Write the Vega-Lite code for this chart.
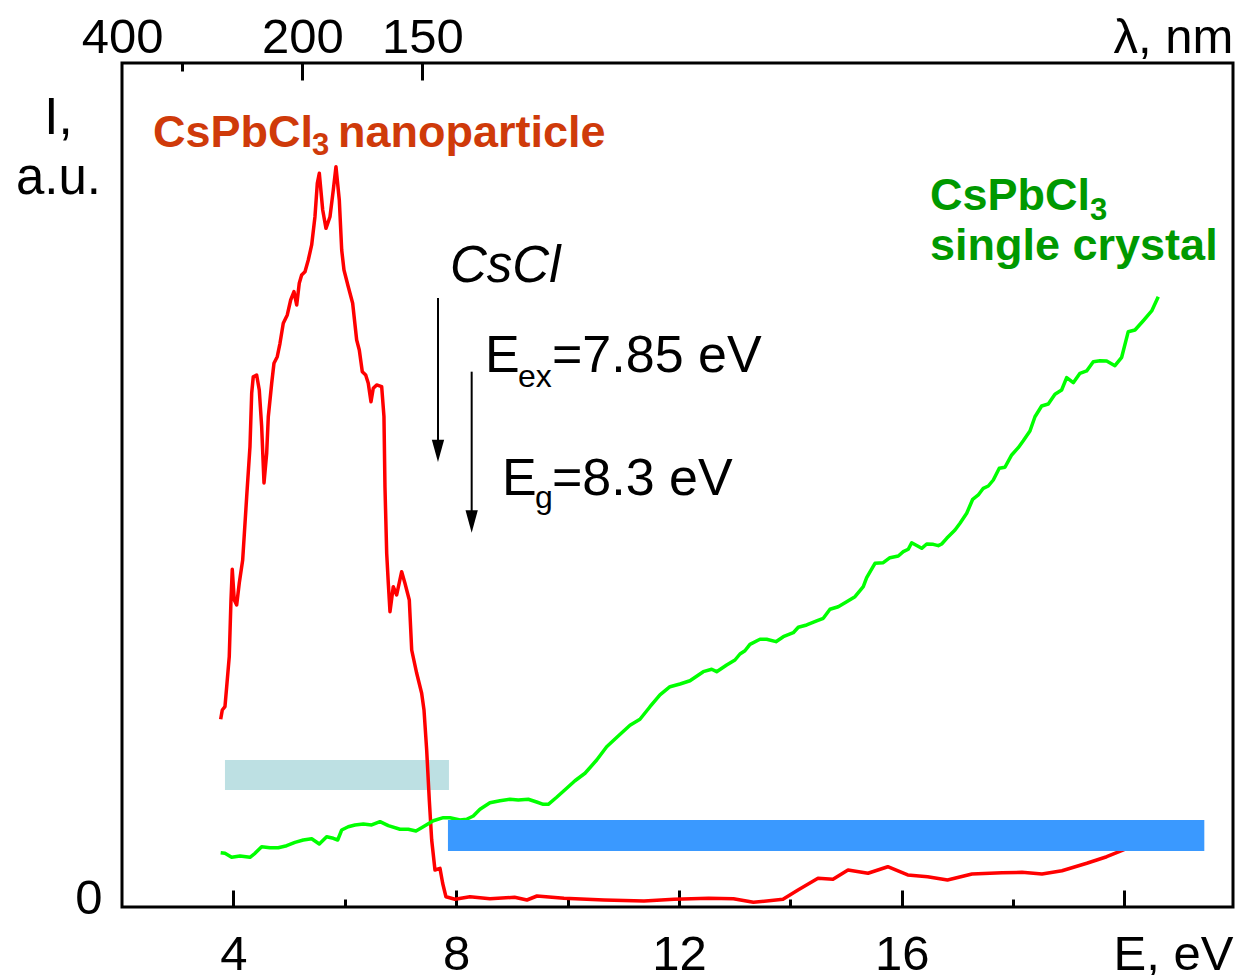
{
  "$schema": "https://vega.github.io/schema/vega-lite/v6.json",
  "width": 1111,
  "height": 844,
  "autosize": {"type": "none"},
  "padding": {"left": 122, "top": 63, "right": 16, "bottom": 68},
  "background": "white",
  "config": {
    "view": {"stroke": "#000", "strokeWidth": 3},
    "axis": {
      "grid": false, "domain": false,
      "labelFont": "Liberation Sans", "titleFont": "Liberation Sans",
      "labelColor": "#000", "titleColor": "#000", "tickColor": "#000",
      "tickWidth": 3, "labelFontSize": 49, "titleFontSize": 49,
      "titleFontWeight": "normal", "labelOverlap": false, "labelFlush": false
    }
  },
  "datasets": {
    "red": [
      {"E":3.772,"I":22.34},{"E":3.801,"I":23.5},{"E":3.849,"I":23.91},{"E":3.880,"I":26.41},{"E":3.926,"I":30.16},{"E":3.957,"I":37.25},{"E":3.980,"I":41.09},{"E":4.016,"I":37.25},{"E":4.059,"I":36.63},{"E":4.106,"I":39.38},{"E":4.167,"I":42.25},{"E":4.239,"I":50.16},{"E":4.298,"I":56.41},{"E":4.329,"I":63.13},{"E":4.357,"I":65.16},{"E":4.418,"I":65.38},{"E":4.465,"I":63.5},{"E":4.508,"I":58.91},{"E":4.550,"I":51.88},{"E":4.598,"I":55.59},{"E":4.627,"I":60.16},{"E":4.688,"I":64.34},{"E":4.729,"I":66.84},{"E":4.788,"I":67.66},{"E":4.837,"I":69.34},{"E":4.896,"I":71.84},{"E":4.968,"I":72.88},{"E":5.029,"I":74.75},{"E":5.088,"I":75.79},{"E":5.137,"I":74.13},{"E":5.183,"I":76.84},{"E":5.226,"I":77.88},{"E":5.286,"I":78.29},{"E":5.345,"I":79.75},{"E":5.406,"I":81.63},{"E":5.465,"I":85.16},{"E":5.507,"I":89.34},{"E":5.543,"I":90.59},{"E":5.604,"I":86},{"E":5.663,"I":83.71},{"E":5.735,"I":85.16},{"E":5.794,"I":88.5},{"E":5.842,"I":91.41},{"E":5.902,"I":87.25},{"E":5.945,"I":81},{"E":5.986,"I":78.5},{"E":6.063,"I":76.41},{"E":6.142,"I":74.34},{"E":6.214,"I":69.75},{"E":6.261,"I":68.5},{"E":6.315,"I":65.79},{"E":6.376,"I":65.38},{"E":6.422,"I":64.34},{"E":6.471,"I":62.04},{"E":6.512,"I":63.71},{"E":6.573,"I":64.13},{"E":6.663,"I":63.91},{"E":6.704,"I":60.16},{"E":6.722,"I":51.41},{"E":6.753,"I":43.09},{"E":6.782,"I":39.34},{"E":6.812,"I":35.79},{"E":6.871,"I":38.91},{"E":6.932,"I":37.88},{"E":7.022,"I":40.79},{"E":7.081,"I":39.34},{"E":7.159,"I":37.25},{"E":7.202,"I":31},{"E":7.292,"I":28.09},{"E":7.381,"I":25.59},{"E":7.423,"I":23.5},{"E":7.471,"I":18.5},{"E":7.518,"I":12.25},{"E":7.561,"I":7.25},{"E":7.620,"I":3.5},{"E":7.710,"I":3.71},{"E":7.758,"I":1.84},{"E":7.817,"I":0.16},{"E":7.979,"I":-0.16},{"E":8.248,"I":0.16},{"E":8.607,"I":-0.09},{"E":9.049,"I":0.09},{"E":9.272,"I":-0.25},{"E":9.452,"I":0.25},{"E":9.936,"I":-0.04},{"E":10.655,"I":-0.25},{"E":11.373,"I":-0.38},{"E":11.912,"I":-0.16},{"E":12.535,"I":-0.04},{"E":12.980,"I":-0.09},{"E":13.338,"I":-0.54},{"E":13.869,"I":-0.16},{"E":14.139,"I":1},{"E":14.498,"I":2.46},{"E":14.767,"I":2.34},{"E":15.037,"I":3.5},{"E":15.396,"I":3.09},{"E":15.751,"I":3.91},{"E":16.109,"I":2.88},{"E":16.466,"I":2.66},{"E":16.823,"I":2.25},{"E":17.263,"I":3},{"E":17.802,"I":3.16},{"E":18.161,"I":3.21},{"E":18.520,"I":3},{"E":18.879,"I":3.41},{"E":19.325,"I":4.34},{"E":19.682,"I":5.16},{"E":19.950,"I":5.91},{"E":20.190,"I":6.63}
    ],
    "green": [
      {"E":3.772,"I":5.66},{"E":3.849,"I":5.59},{"E":3.969,"I":5.09},{"E":4.119,"I":5.25},{"E":4.298,"I":5.09},{"E":4.388,"I":5.59},{"E":4.508,"I":6.41},{"E":4.657,"I":6.29},{"E":4.806,"I":6.29},{"E":4.957,"I":6.54},{"E":5.106,"I":6.96},{"E":5.255,"I":7.25},{"E":5.406,"I":7.41},{"E":5.543,"I":6.75},{"E":5.675,"I":7.66},{"E":5.794,"I":7.46},{"E":5.873,"I":7.25},{"E":5.945,"I":8.5},{"E":6.063,"I":8.91},{"E":6.184,"I":9.13},{"E":6.333,"I":9.25},{"E":6.483,"I":9.13},{"E":6.633,"I":9.54},{"E":6.782,"I":9.04},{"E":6.992,"I":8.59},{"E":7.141,"I":8.59},{"E":7.279,"I":8.38},{"E":7.410,"I":8.91},{"E":7.590,"I":9.66},{"E":7.769,"I":10.04},{"E":7.890,"I":10.04},{"E":8.069,"I":9.75},{"E":8.189,"I":9.84},{"E":8.308,"I":10.25},{"E":8.428,"I":11.09},{"E":8.607,"I":11.91},{"E":8.787,"I":12.16},{"E":8.967,"I":12.34},{"E":9.116,"I":12.25},{"E":9.295,"I":12.34},{"E":9.446,"I":12},{"E":9.565,"I":11.71},{"E":9.655,"I":11.71},{"E":9.805,"I":12.59},{"E":9.985,"I":13.71},{"E":10.134,"I":14.66},{"E":10.314,"I":15.59},{"E":10.524,"I":17.25},{"E":10.703,"I":18.91},{"E":10.911,"I":20.25},{"E":11.122,"I":21.59},{"E":11.301,"I":22.34},{"E":11.481,"I":23.91},{"E":11.660,"I":25.38},{"E":11.840,"I":26.41},{"E":12.020,"I":26.75},{"E":12.199,"I":27.16},{"E":12.438,"I":28.29},{"E":12.589,"I":28.59},{"E":12.678,"I":28.29},{"E":12.858,"I":29.13},{"E":13.007,"I":29.75},{"E":13.097,"I":30.5},{"E":13.186,"I":30.91},{"E":13.276,"I":31.71},{"E":13.456,"I":32.34},{"E":13.576,"I":32.34},{"E":13.743,"I":32.04},{"E":13.875,"I":32.66},{"E":14.054,"I":33.16},{"E":14.144,"I":33.84},{"E":14.295,"I":34.13},{"E":14.474,"I":34.63},{"E":14.593,"I":34.96},{"E":14.713,"I":36.09},{"E":14.862,"I":36.41},{"E":15.013,"I":37.04},{"E":15.162,"I":37.66},{"E":15.311,"I":38.91},{"E":15.372,"I":40.04},{"E":15.521,"I":41.84},{"E":15.670,"I":41.91},{"E":15.790,"I":42.54},{"E":15.940,"I":42.75},{"E":16.030,"I":43.29},{"E":16.119,"I":43.59},{"E":16.180,"I":44.41},{"E":16.360,"I":43.71},{"E":16.450,"I":44.25},{"E":16.568,"I":44.21},{"E":16.658,"I":44.04},{"E":16.719,"I":44.25},{"E":16.809,"I":44.96},{"E":16.958,"I":46},{"E":17.048,"I":46.84},{"E":17.168,"I":48.09},{"E":17.276,"I":49.84},{"E":17.376,"I":50.38},{"E":17.466,"I":51.21},{"E":17.556,"I":51.5},{"E":17.646,"I":52.25},{"E":17.753,"I":53.71},{"E":17.855,"I":53.84},{"E":17.976,"I":55.38},{"E":18.094,"I":56.29},{"E":18.184,"I":57.16},{"E":18.304,"I":58.38},{"E":18.394,"I":60.16},{"E":18.514,"I":61.5},{"E":18.633,"I":61.75},{"E":18.753,"I":62.96},{"E":18.873,"I":63.5},{"E":18.963,"I":65.04},{"E":19.082,"I":64.41},{"E":19.202,"I":65.59},{"E":19.322,"I":65.88},{"E":19.441,"I":67.04},{"E":19.561,"I":67.16},{"E":19.681,"I":67.13},{"E":19.830,"I":66.54},{"E":19.951,"I":67.59},{"E":20.069,"I":70.79},{"E":20.190,"I":71},{"E":20.339,"I":72.16},{"E":20.490,"I":73.38},{"E":20.608,"I":75.16}
    ],
    "bars": [
      {"name":"CsCl","E1":3.849,"E2":7.871,"I1":13.5,"I2":17.25},
      {"name":"CsPbCl3","E1":7.853,"E2":21.435,"I1":5.875,"I2":9.75}
    ],
    "arrows": [
      {"E":7.674,"top":75,"head":55.89},
      {"E":8.279,"top":65.79,"head":47.06}
    ],
    "lam": [{"lam":400},{"lam":150}]
  },
  "resolve": {"scale": {"x": "independent"}},
  "layer": [
    {
      "resolve": {"axis": {"x": "independent", "y": "independent"}},
      "layer": [
        {
          "data": {"name": "bars"},
          "transform": [{"filter": "datum.name == 'CsCl'"}],
          "mark": {"type": "rect", "color": "#BDE0E3"},
          "encoding": {
            "x": {"field": "E1", "type": "quantitative",
              "scale": {"domain": [2.0, 21.95], "nice": false, "zero": false},
              "axis": {"orient": "bottom", "values": [4, 8, 12, 16], "ticks": false, "labelPadding": 62, "labelBaseline": "alphabetic",
                "title": "E, eV", "titleX": 991, "titleY": 62, "titleAlign": "left", "titleBaseline": "alphabetic", "titleAngle": 0}},
            "x2": {"field": "E2"},
            "y": {"field": "I1", "type": "quantitative",
              "scale": {"domain": [-1.125, 104.375], "nice": false, "zero": false},
              "axis": {"orient": "left", "values": [0], "ticks": false, "labelPadding": 20,
                "title": ["I,", "a.u."], "titleFontSize": 51, "titleAngle": 0, "titleX": -64, "titleY": 70, "titleAlign": "center", "titleBaseline": "alphabetic", "titleLineHeight": 60}},
            "y2": {"field": "I2"}
          }
        },
        {
          "data": {"name": "red"},
          "mark": {"type": "line", "color": "#FF0000", "strokeWidth": 3.5, "strokeJoin": "round"},
          "encoding": {
            "x": {"field": "E", "type": "quantitative",
              "axis": {"orient": "bottom", "values": [4, 8, 12, 16, 20], "labels": false, "ticks": true, "tickSize": -17, "title": null}},
            "y": {"field": "I", "type": "quantitative", "axis": null}
          }
        },
        {
          "data": {"name": "green"},
          "mark": {"type": "line", "color": "#00FF00", "strokeWidth": 3.5, "strokeJoin": "round"},
          "encoding": {
            "x": {"field": "E", "type": "quantitative",
              "axis": {"orient": "bottom", "values": [6, 10, 14, 18], "labels": false, "ticks": true, "tickSize": -8, "title": null}},
            "y": {"field": "I", "type": "quantitative", "axis": null}
          }
        },
        {
          "data": {"name": "bars"},
          "transform": [{"filter": "datum.name == 'CsPbCl3'"}],
          "mark": {"type": "rect", "color": "#3A99FF"},
          "encoding": {
            "x": {"field": "E1", "type": "quantitative", "axis": null},
            "x2": {"field": "E2"},
            "y": {"field": "I1", "type": "quantitative", "axis": null},
            "y2": {"field": "I2"}
          }
        },
        {
          "data": {"name": "arrows"},
          "mark": {"type": "rule", "color": "#000", "strokeWidth": 2},
          "encoding": {
            "x": {"field": "E", "type": "quantitative", "axis": null},
            "y": {"field": "top", "type": "quantitative", "axis": null},
            "y2": {"field": "head"}
          }
        },
        {
          "data": {"name": "arrows"},
          "mark": {"type": "point", "shape": "M-0.55,-1L0.55,-1L0,1Z", "filled": true, "color": "#000", "opacity": 1, "size": 500},
          "encoding": {
            "x": {"field": "E", "type": "quantitative", "axis": null},
            "y": {"field": "head", "type": "quantitative", "axis": null}
          }
        },
        {
          "data": {"values": [{"t":"CsPbCl","E":2.556,"I":93.91},{"t":"nanoparticle","E":5.878,"I":93.91}]},
          "mark": {"type": "text", "font": "Liberation Sans", "fontWeight": "bold", "fontSize": 45, "color": "#CF3A0A", "align": "left", "baseline": "alphabetic"},
          "encoding": {
            "x": {"field": "E", "type": "quantitative", "axis": null},
            "y": {"field": "I", "type": "quantitative", "axis": null},
            "text": {"field": "t"}
          }
        },
        {
          "data": {"values": [{"t":"3","E":5.411,"I":92.875}]},
          "mark": {"type": "text", "font": "Liberation Sans", "fontWeight": "bold", "fontSize": 31, "color": "#CF3A0A", "align": "left", "baseline": "alphabetic"},
          "encoding": {
            "x": {"field": "E", "type": "quantitative", "axis": null},
            "y": {"field": "I", "type": "quantitative", "axis": null},
            "text": {"field": "t"}
          }
        },
        {
          "data": {"values": [{"t":"CsPbCl","E":16.509,"I":86},{"t":"single crystal","E":16.509,"I":79.75}]},
          "mark": {"type": "text", "font": "Liberation Sans", "fontWeight": "bold", "fontSize": 45, "color": "#009900", "align": "left", "baseline": "alphabetic"},
          "encoding": {
            "x": {"field": "E", "type": "quantitative", "axis": null},
            "y": {"field": "I", "type": "quantitative", "axis": null},
            "text": {"field": "t"}
          }
        },
        {
          "data": {"values": [{"t":"3","E":19.383,"I":84.75}]},
          "mark": {"type": "text", "font": "Liberation Sans", "fontWeight": "bold", "fontSize": 31, "color": "#009900", "align": "left", "baseline": "alphabetic"},
          "encoding": {
            "x": {"field": "E", "type": "quantitative", "axis": null},
            "y": {"field": "I", "type": "quantitative", "axis": null},
            "text": {"field": "t"}
          }
        },
        {
          "data": {"values": [{"t":"CsCl","E":7.890,"I":77}]},
          "mark": {"type": "text", "font": "Liberation Sans", "fontStyle": "italic", "fontSize": 51, "color": "#000", "align": "left", "baseline": "alphabetic"},
          "encoding": {
            "x": {"field": "E", "type": "quantitative", "axis": null},
            "y": {"field": "I", "type": "quantitative", "axis": null},
            "text": {"field": "t"}
          }
        },
        {
          "data": {"values": [{"t":"E","E":8.518,"I":65.75},{"t":"=7.85 eV","E":9.721,"I":65.75},{"t":"E","E":8.823,"I":50.375},{"t":"=8.3 eV","E":9.721,"I":50.375}]},
          "mark": {"type": "text", "font": "Liberation Sans", "fontSize": 52, "color": "#000", "align": "left", "baseline": "alphabetic"},
          "encoding": {
            "x": {"field": "E", "type": "quantitative", "axis": null},
            "y": {"field": "I", "type": "quantitative", "axis": null},
            "text": {"field": "t"}
          }
        },
        {
          "data": {"values": [{"t":"ex","E":9.110,"I":63.875},{"t":"g","E":9.416,"I":48.75}]},
          "mark": {"type": "text", "font": "Liberation Sans", "fontSize": 32, "color": "#000", "align": "left", "baseline": "alphabetic"},
          "encoding": {
            "x": {"field": "E", "type": "quantitative", "axis": null},
            "y": {"field": "I", "type": "quantitative", "axis": null},
            "text": {"field": "t"}
          }
        }
      ]
    },
    {
      "resolve": {"axis": {"x": "independent"}},
      "layer": [
        {
          "data": {"name": "lam"},
          "mark": {"type": "point", "opacity": 0},
          "encoding": {
            "x": {"field": "lam", "type": "quantitative",
              "scale": {"type": "pow", "exponent": -1, "domain": [400, 55.84], "nice": false, "zero": false},
              "axis": {"orient": "top", "values": [400, 200, 150], "ticks": false, "labelPadding": 11, "labelBaseline": "alphabetic",
                "title": "λ, nm", "titleX": 991, "titleY": -11, "titleAlign": "left", "titleBaseline": "alphabetic", "titleAngle": 0}}
          }
        },
        {
          "data": {"name": "lam"},
          "mark": {"type": "point", "opacity": 0},
          "encoding": {
            "x": {"field": "lam", "type": "quantitative",
              "axis": {"orient": "top", "values": [200, 150], "labels": false, "ticks": true, "tickSize": -17, "title": null}}
          }
        },
        {
          "data": {"name": "lam"},
          "mark": {"type": "point", "opacity": 0},
          "encoding": {
            "x": {"field": "lam", "type": "quantitative",
              "axis": {"orient": "top", "values": [300], "labels": false, "ticks": true, "tickSize": -8, "title": null}}
          }
        }
      ]
    }
  ]
}
